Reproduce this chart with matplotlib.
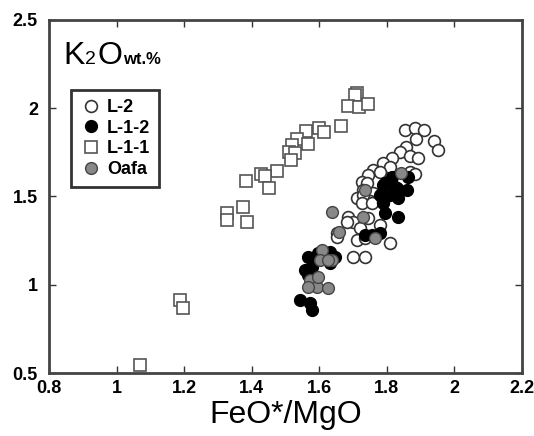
import matplotlib
matplotlib.use("Agg")
import matplotlib.pyplot as plt

plt.rcParams['font.family'] = ['Liberation Sans', 'DejaVu Sans']

# L-1-1 (open squares)
l11_x = [1.711, 1.706, 1.685, 1.717, 1.744, 1.664, 1.599, 1.614, 1.561, 1.534,
         1.567, 1.519, 1.510, 1.528, 1.516, 1.475, 1.427, 1.439, 1.383, 1.451,
         1.327, 1.374, 1.386, 1.327, 1.188, 1.197, 1.069]
l11_y = [2.086, 2.075, 2.013, 2.007, 2.024, 1.902, 1.888, 1.866, 1.871, 1.826,
         1.797, 1.792, 1.752, 1.746, 1.707, 1.645, 1.627, 1.616, 1.588, 1.548,
         1.407, 1.441, 1.356, 1.367, 0.914, 0.868, 0.545]

# L-2 (open circles)
l2_x = [1.854, 1.883, 1.910, 1.886, 1.939, 1.951, 1.857, 1.839, 1.868, 1.892,
        1.815, 1.788, 1.809, 1.759, 1.780, 1.744, 1.726, 1.741, 1.868, 1.883,
        1.729, 1.759, 1.750, 1.712, 1.729, 1.726, 1.756, 1.788, 1.685, 1.700,
        1.720, 1.744, 1.780, 1.652, 1.712, 1.735, 1.809, 1.700, 1.735, 1.652,
        1.682]
l2_y = [1.877, 1.888, 1.877, 1.826, 1.814, 1.763, 1.780, 1.752, 1.729, 1.718,
        1.718, 1.690, 1.667, 1.650, 1.639, 1.622, 1.582, 1.576, 1.639, 1.627,
        1.537, 1.520, 1.474, 1.491, 1.508, 1.463, 1.463, 1.469, 1.384, 1.356,
        1.322, 1.378, 1.339, 1.293, 1.254, 1.265, 1.237, 1.157, 1.157, 1.271,
        1.356]

# L-1-2 (black circles)
l12_x = [1.815, 1.862, 1.788, 1.824, 1.780, 1.809, 1.833, 1.859, 1.788, 1.794,
         1.830, 1.794, 1.833, 1.756, 1.780, 1.735, 1.567, 1.596, 1.632, 1.646,
         1.632, 1.558, 1.578, 1.567, 1.543, 1.572, 1.578]
l12_y = [1.610, 1.610, 1.565, 1.554, 1.508, 1.508, 1.491, 1.537, 1.463, 1.576,
         1.548, 1.407, 1.384, 1.282, 1.293, 1.282, 1.157, 1.180, 1.186, 1.157,
         1.123, 1.084, 1.101, 1.055, 0.914, 0.897, 0.857]

# Oafa (grey circles)
oafa_x = [1.842, 1.735, 1.638, 1.729, 1.658, 1.765, 1.608, 1.602, 1.638, 1.626,
          1.572, 1.593, 1.567, 1.626, 1.596]
oafa_y = [1.633, 1.537, 1.412, 1.384, 1.299, 1.265, 1.197, 1.140, 1.140, 1.140,
          1.027, 0.987, 0.987, 0.982, 1.044]

xticks = [0.8, 1, 1.2, 1.4, 1.6, 1.8, 2, 2.2]
xtick_labels = ['0.8', '1', '1.2', '1.4', '1.6', '1.8', '2', '2.2']
yticks = [0.5, 1, 1.5, 2, 2.5]
ytick_labels = ['0.5', '1', '1.5', '2', '2.5']

W, H = 534, 436
fig = plt.figure(figsize=(W / 100, H / 100), dpi=100)
ax = fig.add_axes([49 / W, 1 - 373 / H, 473 / W, 353 / H])

ms = 8.5
ax.plot(l11_x, l11_y, 's', ms=ms, mfc='white', mec='#555555', mew=1.2, label='L-1-1', zorder=2)
ax.plot(l2_x, l2_y, 'o', ms=ms, mfc='white', mec='#333333', mew=1.2, label='L-2', zorder=3)
ax.plot(l12_x, l12_y, 'o', ms=ms, mfc='black', mec='black', mew=1.0, label='L-1-2', zorder=4)
ax.plot(oafa_x, oafa_y, 'o', ms=ms, mfc='#888888', mec='#444444', mew=1.0, label='Oafa', zorder=5)

ax.set_xlim(0.8, 2.2)
ax.set_ylim(0.5, 2.5)
ax.set_xticks(xticks)
ax.set_xticklabels(xtick_labels, fontsize=13, fontweight='bold')
ax.set_yticks(yticks)
ax.set_yticklabels(ytick_labels, fontsize=13, fontweight='bold')
ax.tick_params(direction='in', length=5, width=1, top=True, right=True, colors='#333333',
               labelcolor='black')
ax.tick_params(axis='x', pad=5)
ax.tick_params(axis='y', pad=8)
for s in ax.spines.values():
    s.set_linewidth(2)
    s.set_color('#444444')

ax.set_xlabel('FeO*/MgO', fontsize=23, labelpad=2)

# legend in the requested order
handles, labels = ax.get_legend_handles_labels()
order = ['L-2', 'L-1-2', 'L-1-1', 'Oafa']
hmap = dict(zip(labels, handles))
leg = ax.legend([hmap[k] for k in order], order, loc='upper left',
                bbox_to_anchor=(22 / 473, (373 - 90) / 353), borderaxespad=0,
                prop={'weight': 'bold', 'size': 13}, frameon=True, fancybox=False,
                handletextpad=0.3, labelspacing=0.2, borderpad=0.5, handlelength=1.2)
leg.get_frame().set_edgecolor('black')
leg.get_frame().set_linewidth(2)

# title K2O wt.% -- pieces placed one after another
renderer = fig.canvas.get_renderer()
xpos = 63
base = H - 64
for txt, size, weight in [('K', 23, 'normal'), ('2', 14, 'normal'),
                          ('O', 23, 'normal'), ('wt.%', 12, 'bold')]:
    t = fig.text(xpos / W, base / H, txt, fontsize=size, fontweight=weight,
                 va='baseline', ha='left')
    bb = t.get_window_extent(renderer)
    xpos = bb.x1 + 1

fig.savefig('out.png', dpi=100)
